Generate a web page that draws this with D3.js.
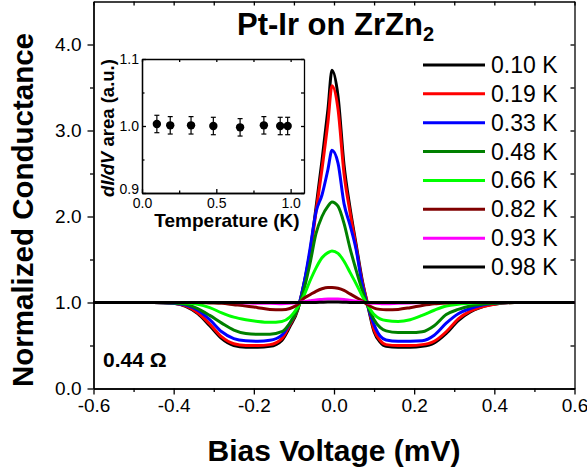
<!DOCTYPE html>
<html><head><meta charset="utf-8">
<script src="https://cdn.jsdelivr.net/npm/d3@7"></script>
<style>
body{margin:0;background:#fff}
text{font-family:"Liberation Sans",Arial,Helvetica,sans-serif}
</style>
</head><body>
<svg id="chart" width="587" height="472"></svg>
<script>
// ---------------- data ----------------
const biasV = [-0.6,-0.45,-0.40,-0.37,-0.34,-0.31,-0.28,-0.25,-0.22,-0.19,-0.16,-0.13,-0.11,-0.09,-0.075,-0.06,-0.045,-0.03,-0.015,-0.005,0.01,0.025,0.04,0.055,0.07,0.085,0.10,0.115,0.13,0.16,0.19,0.22,0.25,0.28,0.31,0.34,0.37,0.40,0.45,0.6];
const g010 = [1.0,1.0,0.99,0.955,0.87,0.73,0.58,0.50,0.48,0.48,0.49,0.56,0.72,0.92,1.22,1.58,2.10,2.65,3.25,3.70,3.40,2.60,2.10,1.68,1.27,0.95,0.66,0.54,0.49,0.48,0.48,0.49,0.53,0.64,0.79,0.89,0.95,0.98,1.0,1.0];
const g019 = [1.0,1.0,0.99,0.96,0.88,0.75,0.60,0.52,0.50,0.50,0.51,0.58,0.74,0.93,1.20,1.55,2.05,2.55,3.10,3.52,3.25,2.50,2.05,1.65,1.25,0.97,0.68,0.56,0.51,0.50,0.50,0.51,0.55,0.66,0.81,0.90,0.95,0.98,1.0,1.0];
const g033 = [1.0,1.0,0.99,0.97,0.91,0.80,0.66,0.58,0.555,0.55,0.56,0.62,0.76,0.94,1.22,1.62,2.05,2.25,2.55,2.77,2.62,2.15,1.90,1.62,1.22,0.95,0.74,0.61,0.565,0.55,0.55,0.555,0.62,0.76,0.87,0.93,0.97,0.99,1.0,1.0];
const g048 = [1.0,1.0,0.995,0.98,0.93,0.85,0.76,0.68,0.64,0.63,0.63,0.66,0.76,0.93,1.15,1.45,1.80,2.00,2.12,2.17,2.12,1.92,1.63,1.38,1.15,0.95,0.80,0.71,0.67,0.65,0.65,0.66,0.73,0.86,0.92,0.96,0.98,0.99,1.0,1.0];
const g066 = [1.0,1.0,1.0,0.995,0.98,0.94,0.88,0.83,0.80,0.78,0.77,0.78,0.83,0.95,1.08,1.25,1.40,1.52,1.58,1.60,1.57,1.48,1.35,1.22,1.08,0.96,0.86,0.81,0.79,0.78,0.80,0.85,0.91,0.96,0.98,0.99,1.0,1.0,1.0,1.0];
const g082 = [1.0,1.0,1.0,1.0,1.0,0.995,0.99,0.975,0.96,0.94,0.92,0.915,0.93,0.98,1.05,1.09,1.13,1.16,1.175,1.175,1.165,1.14,1.10,1.06,1.02,0.97,0.935,0.92,0.915,0.92,0.94,0.965,0.985,0.995,1.0,1.0,1.0,1.0,1.0,1.0];
const g093 = [1.0,1.0,1.0,1.0,1.0,1.0,1.0,1.0,0.995,0.99,0.99,0.985,0.99,1.0,1.01,1.02,1.03,1.035,1.04,1.04,1.04,1.035,1.025,1.015,1.005,0.995,0.99,0.987,0.985,0.99,0.995,1.0,1.0,1.0,1.0,1.0,1.0,1.0,1.0,1.0];
const g098 = [1.0,1.0,1.0,1.0,1.0,1.0,1.0,1.0,1.0,1.0,1.0,1.0,1.0,1.0,1.0,1.0,1.0,1.003,1.005,1.005,1.005,1.003,1.0,1.0,1.0,1.0,1.0,1.0,1.0,1.0,1.0,1.0,1.0,1.0,1.0,1.0,1.0,1.0,1.0,1.0];
const seriesLabels = ["0.10 K","0.19 K","0.33 K","0.48 K","0.66 K","0.82 K","0.93 K","0.98 K"];
const seriesColors = ["#000000","#ff0000","#0000ff","#008000","#00ff00","#800000","#ff00ff","#000000"];
const seriesValues = [g010,g019,g033,g048,g066,g082,g093,g098];

const xTicks = [-0.6,-0.4,-0.2,0.0,0.2,0.4,0.6];
const xMinor = [-0.5,-0.3,-0.1,0.1,0.3,0.5];
const yTicks = [0,1,2,3,4];
const yMinor = [0.5,1.5,2.5,3.5];

// inset data
const insetT = [0.10,0.19,0.33,0.48,0.66,0.82,0.93,0.98];
const insetArea = [1.003,1.001,1.001,1.000,0.998,1.001,1.000,1.000];
const insetErr = [0.013,0.013,0.013,0.013,0.013,0.013,0.013,0.013];
const insetXTicks = [0,0.5,1.0];
const insetXMinor = [0.25,0.75];
const insetYTicks = [0.9,1.0,1.1];
const insetYMinor = [0.95,1.05];

// ---------------- drawing ----------------
const svg = d3.select("#chart");
const L=93.5, R=574.5, T=1.5, B=388.5;
const x = d3.scaleLinear().domain([-0.6,0.6]).range([L,R]);
const y = d3.scaleLinear().domain([0,4.5]).range([B,T]);

// curves
const line = d3.line().x((d,i)=>x(biasV[i])).y(d=>y(d)).curve(d3.curveMonotoneX);
const gC = svg.append("g");
seriesValues.forEach((vals,k)=>{
  gC.append("path").attr("d",line(vals)).attr("fill","none")
    .attr("stroke",seriesColors[k]).attr("stroke-width",3).attr("stroke-linejoin","round");
});

function styleAxis(g, fs){
  g.select(".domain").attr("stroke","#000").attr("stroke-width",1.3);
  g.selectAll(".tick line").attr("stroke","#000").attr("stroke-width",1.3);
  g.selectAll("text").attr("fill","#000").style("font-size",fs+"px").attr("font-family",null);
}
const fmt = d => d3.format(".1f")(d).replace("\u2212","-");
// bottom
let ax = svg.append("g").attr("transform",`translate(0,${B})`)
  .call(d3.axisBottom(x).tickValues(xTicks).tickFormat(fmt).tickSize(6).tickSizeOuter(0).tickPadding(4));
styleAxis(ax,19);
ax = svg.append("g").attr("transform",`translate(0,${B})`)
  .call(d3.axisBottom(x).tickValues(xMinor).tickFormat("").tickSize(3.5).tickSizeOuter(0));
styleAxis(ax,19);
// top
ax = svg.append("g").attr("transform",`translate(0,${T})`)
  .call(d3.axisTop(x).tickValues(xTicks.concat(xMinor)).tickFormat("").tickSize(-4).tickSizeOuter(0));
styleAxis(ax,19);
// left
ax = svg.append("g").attr("transform",`translate(${L},0)`)
  .call(d3.axisLeft(y).tickValues(yTicks).tickFormat(fmt).tickSize(6).tickSizeOuter(0).tickPadding(6));
styleAxis(ax,19);
ax = svg.append("g").attr("transform",`translate(${L},0)`)
  .call(d3.axisLeft(y).tickValues(yMinor).tickFormat("").tickSize(3.5).tickSizeOuter(0));
styleAxis(ax,19);
// right
ax = svg.append("g").attr("transform",`translate(${R},0)`)
  .call(d3.axisRight(y).tickValues(yTicks.concat(yMinor)).tickFormat("").tickSize(-4).tickSizeOuter(0));
styleAxis(ax,19);

// axis titles
svg.append("text").attr("x",(L+R)/2).attr("y",461).attr("text-anchor","middle")
  .style("font-size","30px").style("font-weight","bold").text("Bias Voltage (mV)");
svg.append("text").attr("transform","translate(33,210) rotate(-90)").attr("text-anchor","middle")
  .style("font-size","29.5px").style("font-weight","bold").text("Normalized Conductance");

// title
const tt = svg.append("text").attr("x",237).attr("y",35).style("font-size","31px").style("font-weight","bold");
tt.append("tspan").text("Pt-Ir on ZrZn");
tt.append("tspan").attr("dy",6).style("font-size","20px").text("2");

// resistance label
svg.append("text").attr("x",103).attr("y",367).style("font-size","21px").style("font-weight","bold").text("0.44 Ω");

// legend
const legY = d3.scaleLinear().domain([0,7]).range([65,267]);
const lg = svg.append("g");
seriesLabels.forEach((lab,k)=>{
  lg.append("line").attr("x1",423).attr("x2",485).attr("y1",legY(k)).attr("y2",legY(k))
    .attr("stroke",seriesColors[k]).attr("stroke-width",3);
  lg.append("text").attr("x",491).attr("y",legY(k)+8).style("font-size","23px").text(lab);
});

// ---------------- inset ----------------
const iL=142, iR=304, iT=59, iB=193;
const ix = d3.scaleLinear().domain([0,1.09]).range([iL,iR]);
const iy = d3.scaleLinear().domain([0.9,1.1]).range([iB,iT]);
const ig = svg.append("g");
ig.append("rect").attr("x",iL).attr("y",iT).attr("width",iR-iL).attr("height",iB-iT).attr("fill","#fff");
ax = ig.append("g").attr("transform",`translate(0,${iB})`)
  .call(d3.axisBottom(ix).tickValues(insetXTicks).tickFormat(fmt).tickSize(-4).tickSizeOuter(0).tickPadding(5));
styleAxis(ax,14);
ax = ig.append("g").attr("transform",`translate(0,${iB})`)
  .call(d3.axisBottom(ix).tickValues(insetXMinor).tickFormat("").tickSize(-2.5).tickSizeOuter(0));
styleAxis(ax,14);
ax = ig.append("g").attr("transform",`translate(0,${iT})`)
  .call(d3.axisTop(ix).tickValues(insetXTicks.concat(insetXMinor)).tickFormat("").tickSize(-3).tickSizeOuter(0));
styleAxis(ax,14);
ax = ig.append("g").attr("transform",`translate(${iL},0)`)
  .call(d3.axisLeft(iy).tickValues(insetYTicks).tickFormat(fmt).tickSize(-4).tickSizeOuter(0).tickPadding(3));
styleAxis(ax,14);
ax.selectAll(".tick text").attr("dy",d => d===0.9 ? "0.05em" : "0.3em");
ax = ig.append("g").attr("transform",`translate(${iL},0)`)
  .call(d3.axisLeft(iy).tickValues(insetYMinor).tickFormat("").tickSize(-2.5).tickSizeOuter(0));
styleAxis(ax,14);
ax = ig.append("g").attr("transform",`translate(${iR},0)`)
  .call(d3.axisRight(iy).tickValues(insetYTicks.concat(insetYMinor)).tickFormat("").tickSize(-3).tickSizeOuter(0));
styleAxis(ax,14);

// error bars + points
insetT.forEach((t,i)=>{
  const cx = ix(t), y1 = iy(insetArea[i]+insetErr[i]), y2 = iy(insetArea[i]-insetErr[i]);
  ig.append("line").attr("x1",cx).attr("x2",cx).attr("y1",y1).attr("y2",y2).attr("stroke","#000").attr("stroke-width",1.2);
  ig.append("line").attr("x1",cx-2.5).attr("x2",cx+2.5).attr("y1",y1).attr("y2",y1).attr("stroke","#000").attr("stroke-width",1.2);
  ig.append("line").attr("x1",cx-2.5).attr("x2",cx+2.5).attr("y1",y2).attr("y2",y2).attr("stroke","#000").attr("stroke-width",1.2);
  ig.append("circle").attr("cx",cx).attr("cy",iy(insetArea[i])).attr("r",4.2).attr("fill","#000");
});

// inset titles
ig.append("text").attr("x",(iL+iR)/2+4).attr("y",227).attr("text-anchor","middle")
  .style("font-size","19px").style("font-weight","bold").text("Temperature (K)");
const iyt = ig.append("text").attr("transform",`translate(114,128) rotate(-90)`).attr("text-anchor","middle")
  .style("font-size","18.5px").style("font-weight","bold");
iyt.append("tspan").style("font-style","italic").text("dI/dV");
iyt.append("tspan").text(" area (a.u.)");
</script>
</body></html>
